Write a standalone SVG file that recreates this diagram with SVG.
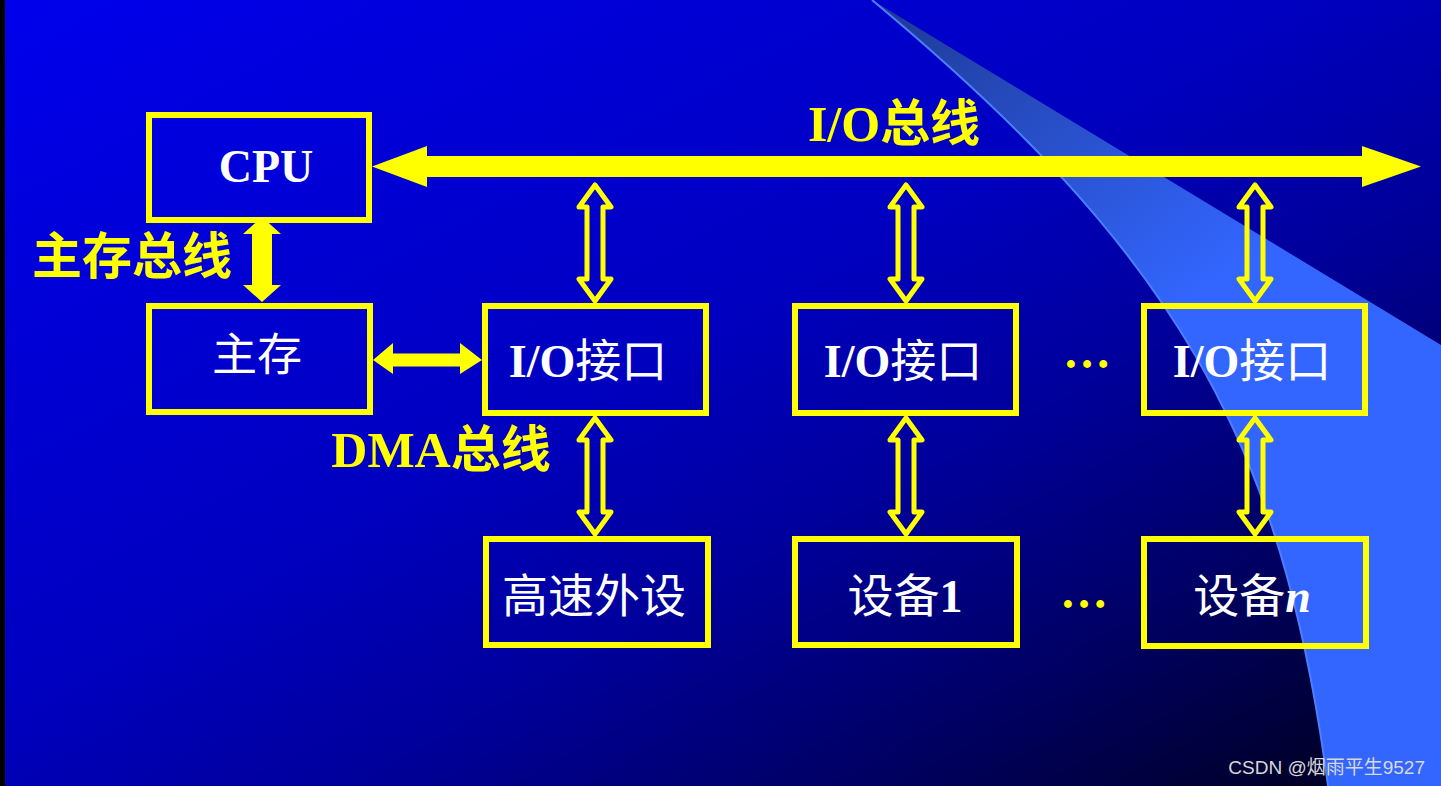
<svg xmlns="http://www.w3.org/2000/svg" width="1441" height="786" viewBox="0 0 1441 786">
<defs>
<linearGradient id="bg" x1="0" y1="0" x2="1" y2="1">
<stop offset="0" stop-color="#0000EC"/>
<stop offset="0.45" stop-color="#0000C0"/>
<stop offset="0.62" stop-color="#00009A"/>
<stop offset="0.8" stop-color="#000060"/>
<stop offset="1" stop-color="#000018"/>
</linearGradient>
<linearGradient id="sw" gradientUnits="userSpaceOnUse" x1="900" y1="0" x2="1160" y2="330">
<stop offset="0" stop-color="#1F3B98"/>
<stop offset="1" stop-color="#3366FF"/>
</linearGradient>
<style>
.box{fill:none;stroke:#FFFF00;stroke-width:6}
.hol{fill:none;stroke:#FFFF00;stroke-width:5;stroke-linejoin:round}
.sol{fill:#FFFF00}
.wt{fill:#FFFFFF;font-size:46px;text-anchor:middle}
.lat{font-family:"Liberation Serif",serif;font-weight:bold}
.cjk{font-family:"Noto Sans CJK SC",sans-serif;font-weight:normal}
.yl{fill:#FFFF00;font-size:50px;text-anchor:middle}
.ycjk{font-family:"Noto Sans CJK SC",sans-serif;font-weight:bold}
.dots{fill:#FFFF00;font-family:"Liberation Serif",serif;font-weight:bold;font-size:48px;text-anchor:middle}
</style>
</defs>
<rect x="0" y="0" width="1441" height="786" fill="url(#bg)"/>
<rect x="0" y="0" width="5" height="786" fill="#000000"/>
<path d="M872,0 L1441,345 L1441,786 L1328,786 C1282,436 1172,250 872,0 Z" fill="url(#sw)"/>
<path d="M1328,786 C1282,436 1172,250 872,0" fill="none" stroke="#4A80FF" stroke-width="2"/>

<g id="connectors">
<path class="sol" d="M372,166.5 L427,146 L427,156 L1362,156 L1362,146 L1421,166.5 L1362,187 L1362,177 L427,177 L427,187 Z"/>
<path class="sol" d="M262,217 L281,234 L272,234 L272,285 L281,285 L262,302 L243,285 L252,285 L252,234 L243,234 Z"/>
<path class="sol" d="M373,360 L393,343 L393,353.5 L460,353.5 L460,343 L482,360 L460,374 L460,366.5 L393,366.5 L393,374 Z"/>
<path class="hol" d="M595,185 L611,207 L603,207 L603,279 L611,279 L595,301 L579,279 L587,279 L587,207 L579,207 Z"/>
<path class="hol" d="M906,185 L922,207 L914,207 L914,279 L922,279 L906,301 L890,279 L898,279 L898,207 L890,207 Z"/>
<path class="hol" d="M1255,185 L1271,207 L1263,207 L1263,279 L1271,279 L1255,301 L1239,279 L1247,279 L1247,207 L1239,207 Z"/>
<path class="hol" d="M595,418 L611,440 L603,440 L603,512 L611,512 L595,534 L579,512 L587,512 L587,440 L579,440 Z"/>
<path class="hol" d="M906,418 L922,440 L914,440 L914,512 L922,512 L906,534 L890,512 L898,512 L898,440 L890,440 Z"/>
<path class="hol" d="M1255,418 L1271,440 L1263,440 L1263,512 L1271,512 L1255,534 L1239,512 L1247,512 L1247,440 L1239,440 Z"/>
</g>

<g id="cpu">
<rect class="box" x="149" y="115" width="220" height="105"/>
<text class="wt lat" x="266" y="182" font-size="48">CPU</text>
</g>
<g id="mem">
<rect class="box" x="149" y="306" width="221" height="106"/>
<text class="wt cjk" x="257" y="371" style="font-size:45px">主存</text>
</g>
<g id="io1">
<rect class="box" x="485" y="306" width="221" height="107"/>
<text class="wt" x="588" y="377"><tspan class="lat">I/O</tspan><tspan class="cjk">接口</tspan></text>
</g>
<g id="io2">
<rect class="box" x="795" y="306" width="221" height="107"/>
<text class="wt" x="903" y="377"><tspan class="lat">I/O</tspan><tspan class="cjk">接口</tspan></text>
</g>
<g id="io3">
<rect class="box" x="1144" y="306" width="221" height="107"/>
<text class="wt" x="1252" y="377"><tspan class="lat">I/O</tspan><tspan class="cjk">接口</tspan></text>
</g>
<g id="hsdev">
<rect class="box" x="486" y="539" width="222" height="106"/>
<text class="wt cjk" x="594" y="612">高速外设</text>
</g>
<g id="dev1">
<rect class="box" x="795" y="539" width="222" height="106"/>
<text class="wt" x="905" y="612"><tspan class="cjk">设备</tspan><tspan class="lat">1</tspan></text>
</g>
<g id="devn">
<rect class="box" x="1144" y="539" width="222" height="107"/>
<text class="wt" x="1252" y="612"><tspan class="cjk">设备</tspan><tspan class="lat" font-style="italic">n</tspan></text>
</g>

<g id="labels">
<text class="yl" x="894" y="141"><tspan class="lat">I/O</tspan><tspan class="ycjk">总线</tspan></text>
<text class="yl ycjk" x="132" y="274">主存总线</text>
<text class="yl" x="441" y="467"><tspan class="lat">DMA</tspan><tspan class="ycjk">总线</tspan></text>
<text class="dots" x="1087" y="368">…</text>
<text class="dots" x="1084" y="608">…</text>
</g>

<text x="1425" y="774" text-anchor="end" fill="#D8D8D8" font-family="'Liberation Sans','Noto Sans CJK SC',sans-serif" font-size="19">CSDN @烟雨平生9527</text>
</svg>
